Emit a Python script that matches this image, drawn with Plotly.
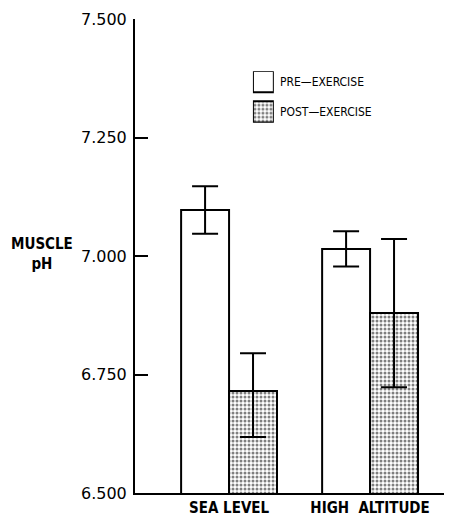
import plotly.graph_objects as go

categories = ["SEA LEVEL", "HIGH  ALTITUDE"]
pre_values = [7.097, 7.015]
pre_err_plus = [0.050, 0.037]
pre_err_minus = [0.050, 0.037]
post_values = [6.715, 6.880]
post_err_plus = [0.080, 0.156]
post_err_minus = [0.097, 0.157]
y_ticks = [6.5, 6.75, 7.0, 7.25, 7.5]
y_tick_labels = ["6.500", "6.750", "7.000", "7.250", "7.500"]
legend_names = ["POST\u2014EXERCISE", "PRE\u2014EXERCISE"]

cond = "DejaVu Sans, sans-serif"
def narrow(t):
    return '<span style="font-stretch:condensed">' + t + '</span>'

stipple = dict(shape=".", fgcolor="black", bgcolor="white", size=4, solidity=0.45)

fig = go.Figure()
fig.add_trace(go.Bar(
    x=categories, y=pre_values, name="PRE-EXERCISE",
    marker=dict(color="white", line=dict(color="black", width=2)),
    error_y=dict(type="data", symmetric=False, array=pre_err_plus, arrayminus=pre_err_minus,
                 color="black", thickness=2, width=13),
))
fig.add_trace(go.Bar(
    x=categories, y=post_values, name="POST-EXERCISE",
    marker=dict(color="white", line=dict(color="black", width=2), pattern=stipple),
    error_y=dict(type="data", symmetric=False, array=post_err_plus, arrayminus=post_err_minus,
                 color="black", thickness=2, width=13),
))

# legend boxes drawn as small horizontal bars on hidden axes
fig.add_trace(go.Bar(
    y=[0], x=[1], orientation="h", width=0.705, xaxis="x2", yaxis="y2",
    marker=dict(color="white", line=dict(color="black", width=2), pattern=stipple),
    showlegend=False, hoverinfo="skip",
))
fig.add_trace(go.Bar(
    y=[1], x=[1], orientation="h", width=0.705, xaxis="x2", yaxis="y2",
    marker=dict(color="white", line=dict(color="black", width=2)),
    showlegend=False, hoverinfo="skip",
))
legend_y_paper = [0.804, 0.868]
for name, yp in zip(legend_names, legend_y_paper):
    fig.add_annotation(x=0.451, y=yp, xref="paper", yref="paper", text=narrow(name), showarrow=False,
                       xanchor="left", yanchor="middle",
                       font=dict(family=cond, size=12, color="black"))

fig.add_annotation(x=-0.293, y=7.005, xref="paper", yref="y", text="<b>" + narrow("MUSCLE<br>pH") + "</b>",
                   showarrow=False, xanchor="center", yanchor="middle", align="center",
                   font=dict(family=cond, size=15, color="black"))

fig.update_layout(
    width=444, height=508,
    margin=dict(l=127, r=0, t=11, b=23),
    paper_bgcolor="white", plot_bgcolor="white",
    barmode="group", bargap=0.32, bargroupgap=0,
    showlegend=False,
    xaxis=dict(range=[-0.667, 1.581], showline=True, linecolor="black", linewidth=2,
               ticks="", showgrid=False, zeroline=False,
               tickvals=categories, ticktext=["<b>" + narrow(c) + "</b>" for c in categories],
               tickfont=dict(family=cond, size=15, color="black"),
               ticklabelstandoff=0),
    yaxis=dict(range=[6.5, 7.5], tickvals=y_ticks, ticktext=y_tick_labels,
               showline=True, linecolor="black", linewidth=2,
               ticks="inside", ticklen=13, tickwidth=1.5, tickcolor="black",
               showgrid=False, zeroline=False,
               tickfont=dict(family=cond, size=16, color="black"),
               ticklabelstandoff=3),
    xaxis2=dict(domain=[0.372, 0.438], range=[0, 1], visible=False, anchor="y2", fixedrange=True),
    yaxis2=dict(domain=[0.781, 0.890], range=[-0.36, 1.344], visible=False, anchor="x2", fixedrange=True),
)

fig.write_html("out.html")
